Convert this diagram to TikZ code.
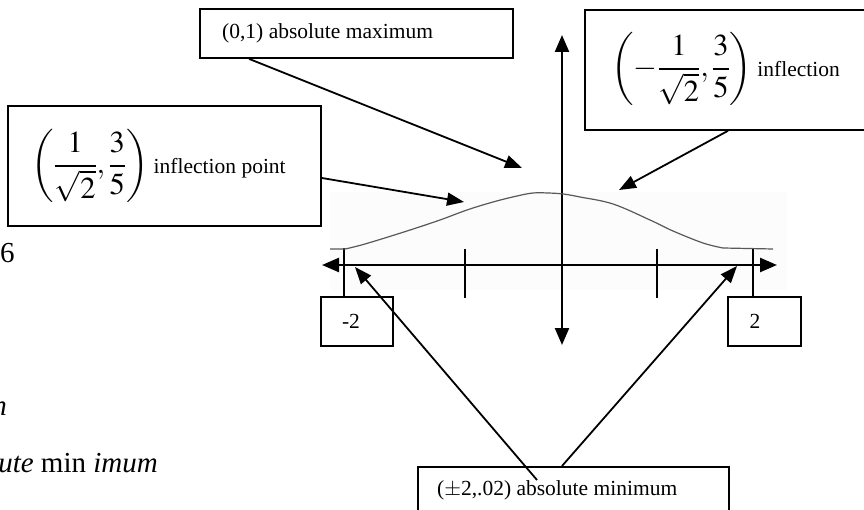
\documentclass[tikz,border=0pt]{standalone}
\usepackage{mathptmx}
\usepackage{fontspec}
\setmainfont{Liberation Serif}
\usetikzlibrary{arrows.meta,calc}
\begin{document}
\begin{tikzpicture}[x=1pt,y=-1pt,
  box/.style={draw,line width=1.8pt,inner sep=0pt},
  lbl/.style={font=\fontsize{21.5}{26}\selectfont,inner sep=0pt},
  mth/.style={font=\fontsize{30.5}{36}\selectfont,inner sep=0pt},
  body/.style={font=\fontsize{29}{34}\selectfont,inner sep=0pt},
  axis/.style={line width=2.4pt},
  callout/.style={line width=1.8pt,-{Triangle[length=17pt,width=13pt]}},
  thin/.style={line width=1.8pt},
  curve/.style={draw=black!65,line width=1.2pt}]
\useasboundingbox (0,0) rectangle (864,510);
\clip (0,0) rectangle (864,510);

% faint plot background
\fill[black!1] (330,192) rectangle (787,290);

% boxes
\node[box,minimum width=313pt,minimum height=49pt] (maxbox) at (356.5,33.5) {};
\node[lbl,anchor=west] (maxtxt) at (222,33.5) {(0,1) absolute maximum};

\node[box,minimum width=313pt,minimum height=120pt] (lbox) at (164.5,166) {};
\node[mth,anchor=west] (ltxt) at (31,166) {$\displaystyle\left(\frac{1}{\sqrt{2}},\frac{3}{5}\right)$\,{\fontsize{21.5}{26}\selectfont inflection point}};

\node[box,minimum width=300pt,minimum height=120pt,anchor=north west] (rbox) at (584,9) {};
\node[mth,anchor=west] (rtxt) at (611,69) {$\displaystyle\left(-\frac{1}{\sqrt{2}},\frac{3}{5}\right)$\,{\fontsize{21.5}{26}\selectfont inflection}};

\node[box,minimum width=311pt,minimum height=70pt,anchor=north west] (minbox) at (417,466) {};
\node[lbl,anchor=west] (mintxt) at (437,490) {($\pm$2,.02) absolute minimum};

\node[box,minimum width=72pt,minimum height=49pt] (mbox) at (357,321.5) {};
\node[lbl] (mtxt) at (351,321.5) {-2};
\node[box,minimum width=73pt,minimum height=49pt] (pbox) at (764.5,321.5) {};
\node[lbl] (ptxt) at (755,321.5) {2};

% left-edge text fragments
\node[body,anchor=base west] (six) at (0,263) {6};
\node[body,anchor=base east] (nfrag) at (7,415) {\itshape n};
\node[body,anchor=base east] (minfrag) at (158,472) {\textit{ute} min \textit{imum}};

% axes
\coordinate (xl) at (322,265);
\coordinate (xr) at (777,265);
\coordinate (yt) at (562,35);
\coordinate (yb) at (562,345);
\draw[axis,{Triangle[length=17pt,width=14pt]}-{Triangle[length=17pt,width=14pt]}] (xl) -- (xr);
\draw[axis,{Triangle[length=17pt,width=14pt]}-{Triangle[length=17pt,width=14pt]}] (yb) -- (yt);

% ticks
\draw[thin] (465,249) -- (465,298);
\draw[thin] (657,249) -- (657,298);

% end markers to boxes
\coordinate (mtop) at (344,248);
\coordinate (ptop) at (753,249);
\draw[thin] (mtop) -- (mtop |- mbox.north);
\draw[thin] (ptop) -- (ptop |- pbox.north);

% curve
\draw[curve] (330,249) -- (345,249)
  plot[smooth,tension=0.6] coordinates {(345,249) (365,244) (407,231) (440,220) (467,210) (493,202) (517,196) (533,193) (548,193) (563,194) (580,197) (613,204) (650,220) (673,231) (703,243) (723,248)}
  -- (773,249);

% callouts
\coordinate (maxtip) at (522,168);
\coordinate (linftip) at (464,202);
\coordinate (rinftip) at (619,190);
\coordinate (mintipL) at (355,267);
\coordinate (mintipR) at (737,266);
\draw[callout] ($(maxbox.south west)+(50,0)$) -- (maxtip);
\draw[callout] ([yshift=-12pt]lbox.east) -- (linftip);
\draw[callout] ($(rbox.south west)+(144,0)$) -- (rinftip);
\draw[callout] ($(minbox.north west)+(120,14)$) -- (mintipL);
\draw[callout] ($(minbox.north west)+(145,0)$) -- (mintipR);
\end{tikzpicture}
\end{document}
